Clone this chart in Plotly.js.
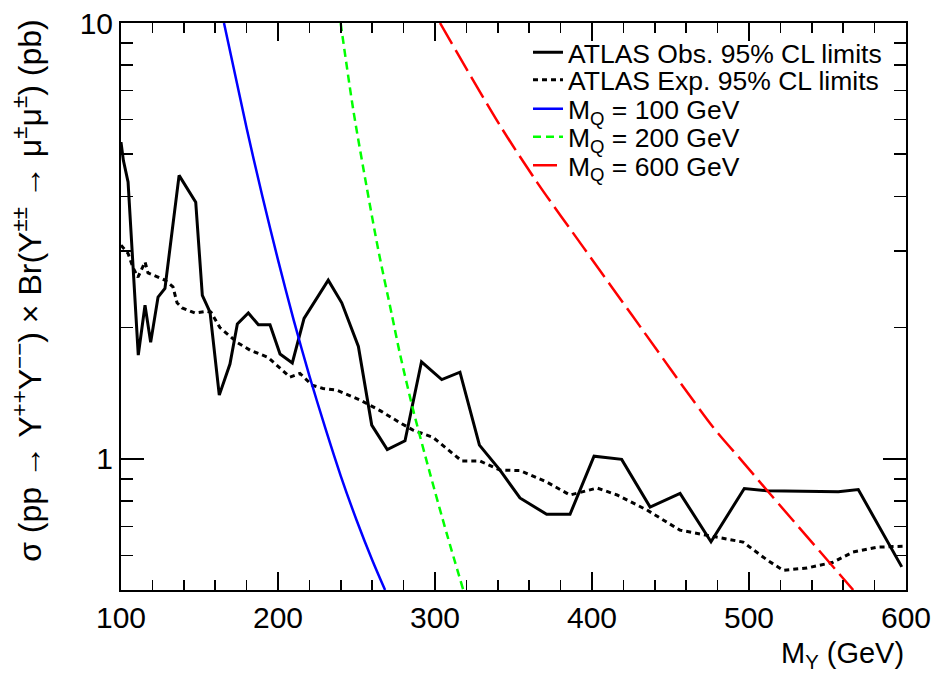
<!DOCTYPE html>
<html>
<head>
<meta charset="utf-8">
<script src="https://cdn.plot.ly/plotly-3.0.1.min.js"></script>
<style>html,body{margin:0;padding:0;background:#fff;}#chart{width:931px;height:678px;}</style>
</head>
<body>
<div id="chart"></div>
<script>
// Observed 95% CL limits
const obsX = [100, 101.5, 104.5, 111, 115.3, 118.9, 123.6, 128, 137, 141.8, 147.6, 151.8, 156.7, 162.6, 169.4, 174.1, 181.1, 187.5, 194.9, 201.3, 209.1, 216.6, 232, 240.6, 251.2, 259.7, 269.6, 280.9, 291.4, 304.3, 315.9, 328.3, 341.4, 354.1, 371.1, 386, 401.3, 418.9, 437, 456.1, 475.8, 497, 511.3, 556.9, 569.6, 597.3];
const obsY = [5.33, 4.84, 4.32, 1.73, 2.25, 1.85, 2.35, 2.46, 4.47, 4.2, 3.88, 2.37, 2.17, 1.40, 1.65, 2.04, 2.16, 2.03, 2.03, 1.74, 1.66, 2.10, 2.57, 2.28, 1.81, 1.195, 1.05, 1.10, 1.67, 1.52, 1.58, 1.075, 0.942, 0.813, 0.746, 0.746, 1.014, 0.997, 0.775, 0.833, 0.645, 0.855, 0.845, 0.840, 0.85, 0.565];
// Expected 95% CL limits
const expX = [100, 104.5, 107.6, 110.8, 115.3, 117.2, 128, 133.1, 135.7, 138.9, 147.1, 154.8, 157.3, 163, 173.9, 182.2, 193.6, 207.6, 214, 221.7, 228.7, 237.6, 252.2, 265, 277.7, 286, 298.7, 311.5, 317.2, 328.7, 341.4, 354.1, 371.3, 386, 403.2, 416, 435, 456, 479.6, 496.2, 511.5, 521.7, 537, 553.5, 566.2, 581.5, 598];
const expY = [3.09, 2.96, 2.75, 2.61, 2.83, 2.67, 2.57, 2.48, 2.28, 2.22, 2.16, 2.18, 2.17, 2.0, 1.85, 1.775, 1.71, 1.54, 1.57, 1.476, 1.45, 1.437, 1.365, 1.29, 1.21, 1.164, 1.12, 1.03, 0.988, 0.988, 0.942, 0.94, 0.884, 0.826, 0.857, 0.826, 0.763, 0.686, 0.661, 0.644, 0.586, 0.555, 0.5615, 0.579, 0.611, 0.627, 0.63];
// Theory curves
const mq100X = [165.6, 180, 190, 200, 210, 220, 230, 240, 250, 260, 268.2];
const mq100Y = [10, 5.74, 4.01, 2.86, 2.08, 1.55, 1.18, 0.913, 0.724, 0.586, 0.5];
const mq200X = [239.9, 248, 256.5, 264, 272.4, 277.7, 286.2, 296.8, 307.4, 318];
const mq200Y = [10, 6.3, 4.2, 3.0, 2.15, 1.74, 1.29, 0.926, 0.675, 0.5];
const mq600X = [303.2, 341.4, 364.8, 394.4, 425.3, 477.3, 494.4, 511.3, 566.4];
const mq600Y = [10, 5.82, 4.32, 3.06, 2.14, 1.18, 1.0, 0.848, 0.5];

const names = ["ATLAS Obs. 95% CL limits", "ATLAS Exp. 95% CL limits", "M<sub>Q</sub> = 100 GeV", "M<sub>Q</sub> = 200 GeV", "M<sub>Q</sub> = 600 GeV"];
const xTicks = [100, 200, 300, 400, 500, 600];
const xMinor = [120,140,160,180,220,240,260,280,320,340,360,380,420,440,460,480,520,540,560,580];
const yTicks = [1, 10];
const yMinor = [0.5,0.6,0.7,0.8,0.9,2,3,4,5,6,7,8,9];

const FONT = "Liberation Sans, Arial, Helvetica, sans-serif";

const traces = [
  {x: obsX, y: obsY, name: names[0], mode: "lines", line: {color: "#000", width: 3}, legend: "legend"},
  {x: expX, y: expY, name: names[1], mode: "lines", line: {color: "#000", width: 3, dash: "5px,4px"}, legend: "legend2"},
  {x: mq100X, y: mq100Y, name: names[2], mode: "lines", line: {color: "#0000ff", width: 2.5, shape: "spline", smoothing: 0.8}, legend: "legend3"},
  {x: mq200X, y: mq200Y, name: names[3], mode: "lines", line: {color: "#00ff00", width: 2.5, dash: "8px,5px", shape: "spline", smoothing: 0.8}, legend: "legend4"},
  {x: mq600X, y: mq600Y, name: names[4], mode: "lines", line: {color: "#ff0000", width: 2.5, dash: "24px,7px", shape: "spline", smoothing: 0.8}, legend: "legend5"}
];

const H = 678, T = 23, B = 88;
const ph = H - T - B;
function py(p) { return 1 - (p - T) / ph; }
function lg(ycenter) {
  return {x: (528 - 121) / (931 - 121 - 25), xanchor: "left", y: py(ycenter), yanchor: "middle",
          bgcolor: "rgba(0,0,0,0)", borderwidth: 0, font: {family: FONT, size: 26.5, color: "#000"}};
}

const layout = {
  width: 931, height: 678,
  margin: {l: 121, r: 25, t: T, b: B},
  paper_bgcolor: "#fff", plot_bgcolor: "#fff",
  font: {family: FONT, color: "#000"},
  showlegend: true,
  legend: lg(52.5), legend2: lg(80), legend3: lg(109), legend4: lg(137), legend5: lg(165.5),
  xaxis: {
    range: [100, 600], showgrid: false, zeroline: false,
    showline: true, linecolor: "#000", linewidth: 2, mirror: "ticks",
    ticks: "inside", ticklen: 18, tickwidth: 1.5, tickcolor: "#000",
    tickmode: "array", tickvals: xTicks, ticktext: xTicks.map(String),
    ticklabeloverflow: "allow",
    tickfont: {family: FONT, size: 30, color: "#000"},
    minor: {tickmode: "array", tickvals: xMinor, ticklen: 10, tickwidth: 1.5, tickcolor: "#000", ticks: "inside", showgrid: false}
  },
  yaxis: {
    type: "log", range: [Math.log10(0.5), 1], showgrid: false, zeroline: false,
    showline: true, linecolor: "#000", linewidth: 2, mirror: "ticks",
    ticks: "inside", ticklen: 23, tickwidth: 1.5, tickcolor: "#000",
    tickmode: "array", tickvals: yTicks, ticktext: yTicks.map(String),
    ticklabeloverflow: "allow",
    tickfont: {family: FONT, size: 30, color: "#000"},
    minor: {tickmode: "array", tickvals: yMinor, ticklen: 12, tickwidth: 1.5, tickcolor: "#000", ticks: "inside", showgrid: false}
  },
  annotations: [
    {text: "M<sub>Y</sub> (GeV)", xref: "paper", yref: "paper", x: 1, xanchor: "right", y: -(635 - 590) / ph, yanchor: "top",
     showarrow: false, font: {family: FONT, size: 29, color: "#000"}},
    {text: "σ (pp → Y<sup>++</sup>Y<sup>−−</sup>) × Br(Y<sup>±±</sup> → μ<sup>±</sup>μ<sup>±</sup>) (pb)", textangle: -90,
     xref: "paper", yref: "paper", x: -(121 - 27) / (931 - 121 - 25), xanchor: "center", y: 1.01, yanchor: "top",
     showarrow: false, font: {family: FONT, size: 32, color: "#000"}}
  ]
};

Plotly.newPlot("chart", traces, layout, {displayModeBar: false, staticPlot: true});
</script>
</body>
</html>
